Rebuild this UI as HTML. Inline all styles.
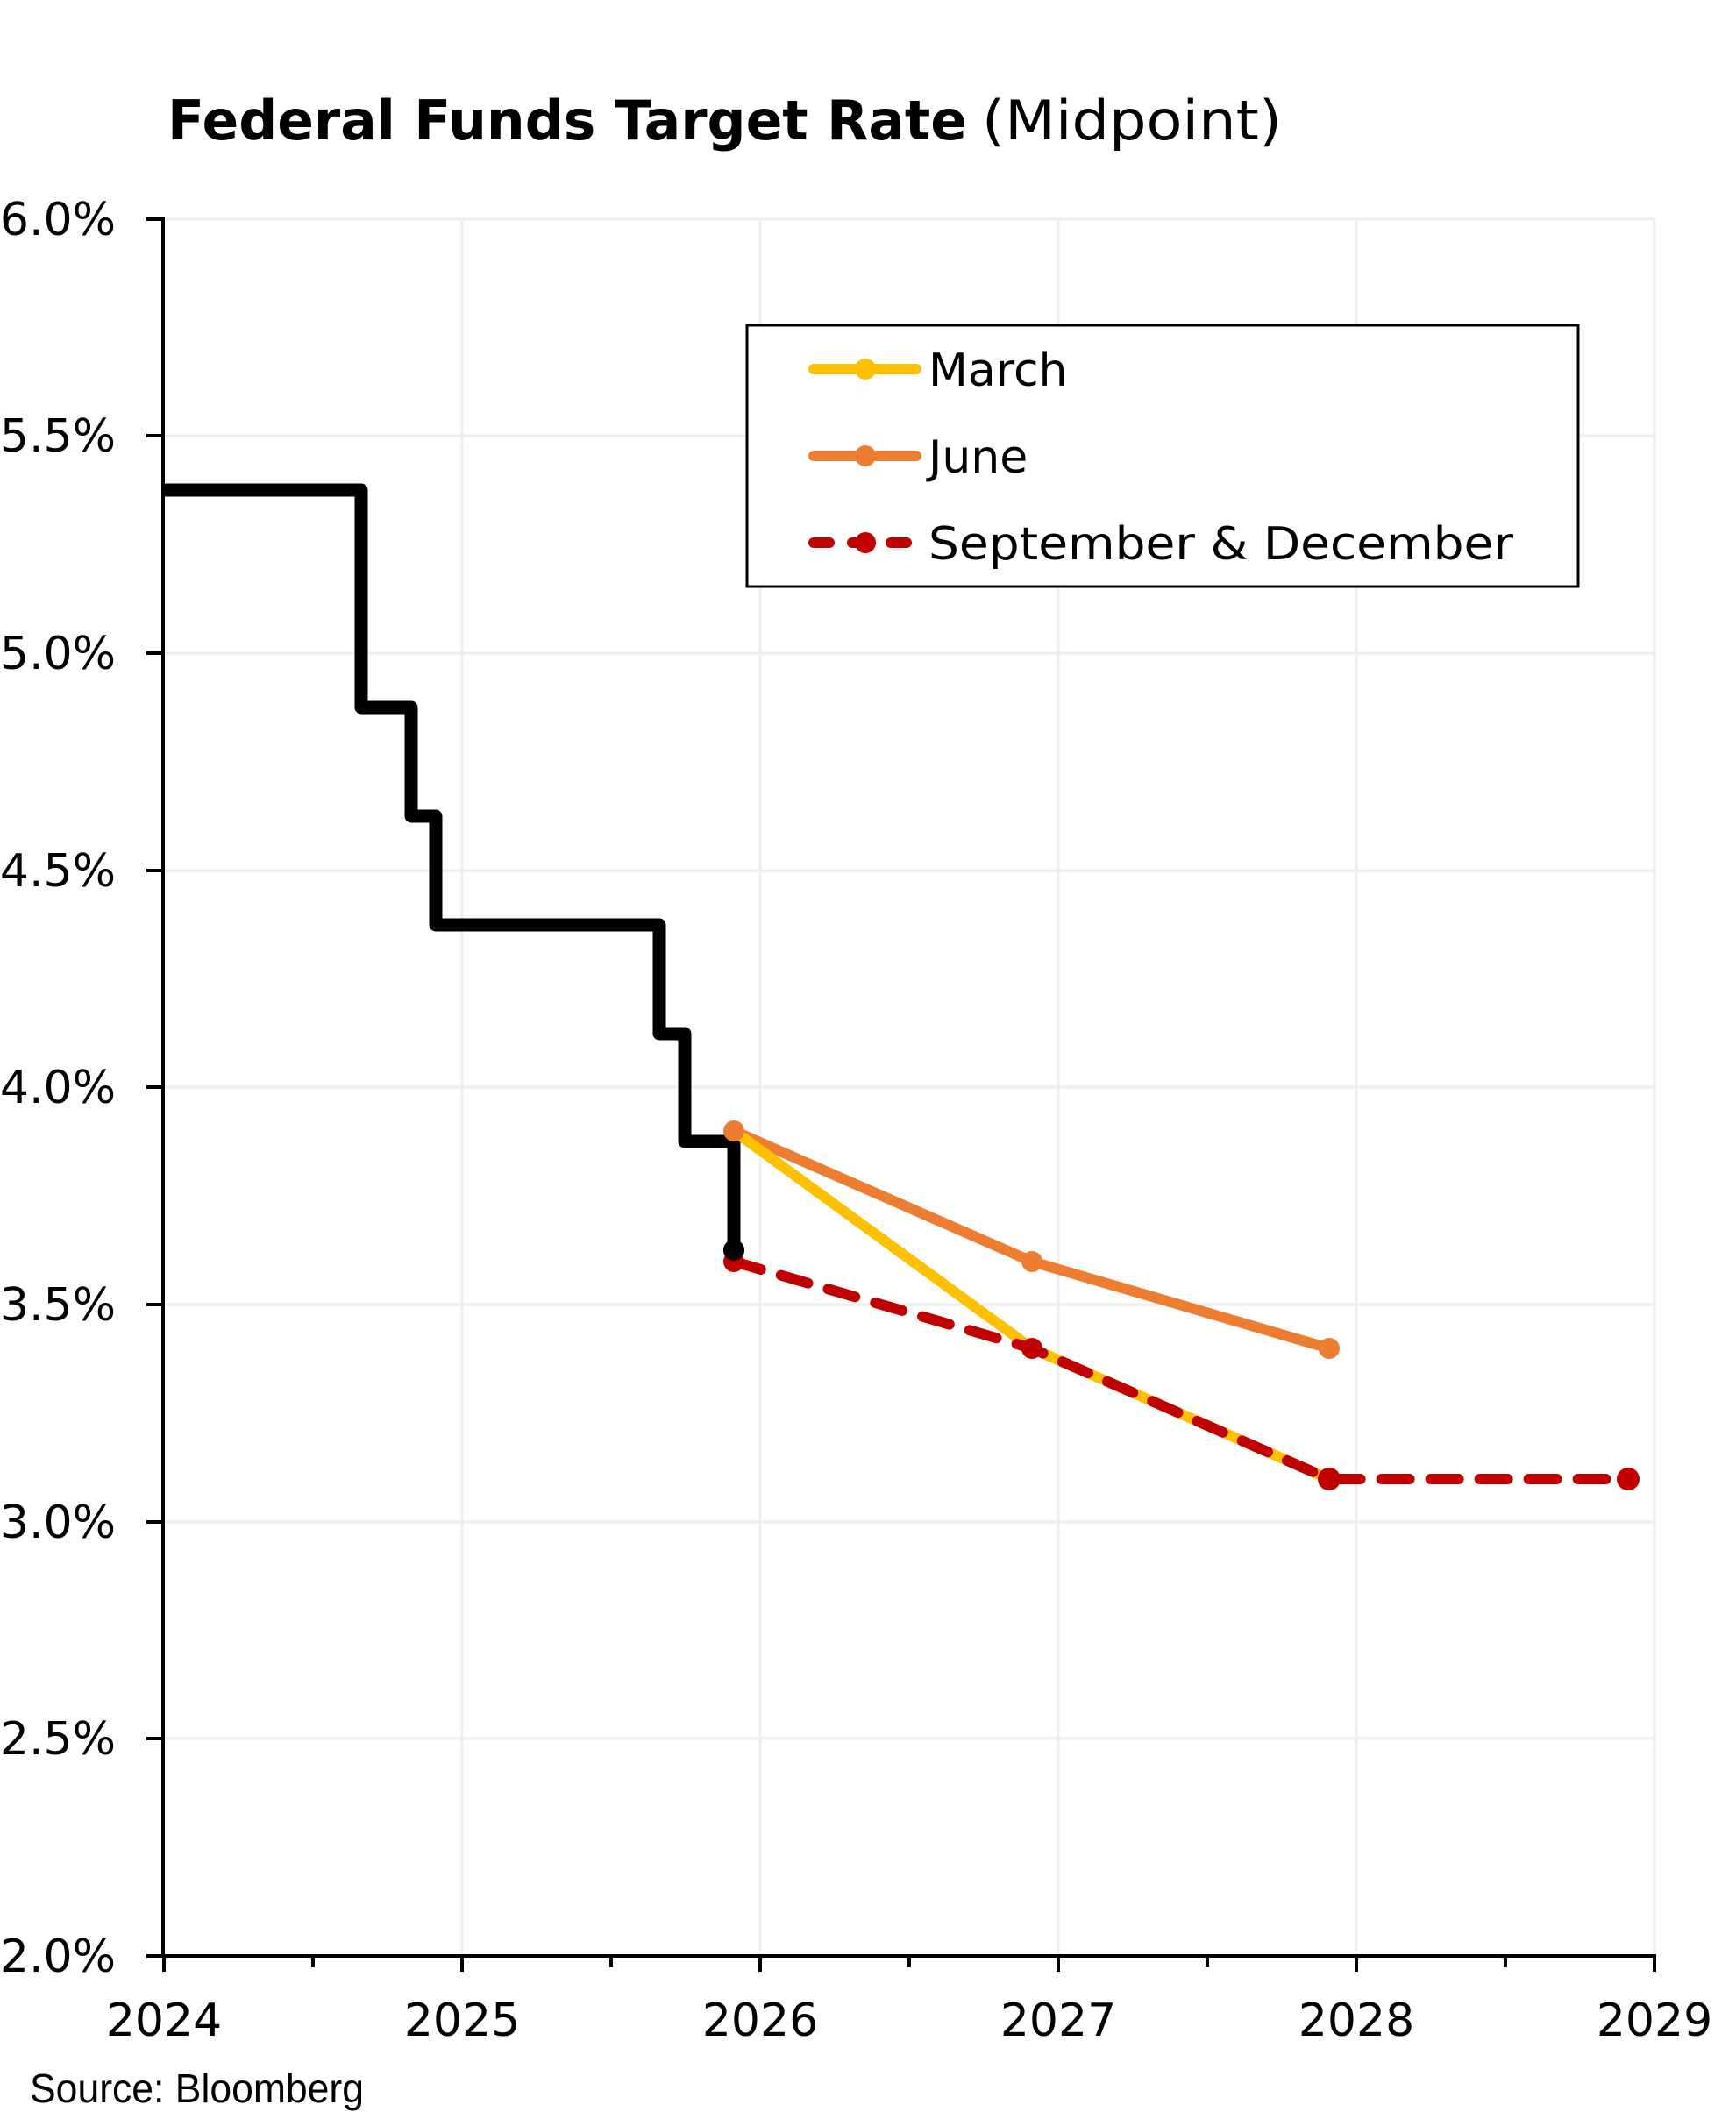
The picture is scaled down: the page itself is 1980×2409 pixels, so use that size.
<!DOCTYPE html>
<html><head><meta charset="utf-8"><style>html,body{margin:0;padding:0;background:#fff}svg{display:block}</style></head>
<body>
<svg width="1980" height="2409" viewBox="0 0 1980 2409" xmlns="http://www.w3.org/2000/svg">
<rect width="1980" height="2409" fill="#fff"/>
<text x="191" y="159" font-family="DejaVu Sans, sans-serif" font-size="62" font-weight="bold" textLength="912" lengthAdjust="spacingAndGlyphs">Federal Funds Target Rate</text>
<text x="1120" y="159" font-family="DejaVu Sans, sans-serif" font-size="62" textLength="342" lengthAdjust="spacingAndGlyphs">(Midpoint)</text>
<g stroke="#eeeeee" stroke-width="3">
<line x1="187" y1="250" x2="1887" y2="250"/><line x1="187" y1="497" x2="1887" y2="497"/><line x1="187" y1="745" x2="1887" y2="745"/><line x1="187" y1="993" x2="1887" y2="993"/><line x1="187" y1="1240" x2="1887" y2="1240"/><line x1="187" y1="1488" x2="1887" y2="1488"/><line x1="187" y1="1736" x2="1887" y2="1736"/><line x1="187" y1="1983" x2="1887" y2="1983"/>
<line x1="527" y1="250" x2="527" y2="2231"/><line x1="867" y1="250" x2="867" y2="2231"/><line x1="1207" y1="250" x2="1207" y2="2231"/><line x1="1547" y1="250" x2="1547" y2="2231"/><line x1="1887" y1="250" x2="1887" y2="2231"/>
</g>
<g stroke="#000" stroke-width="4">
<line x1="186" y1="248" x2="186" y2="2233"/><line x1="184" y1="2231" x2="1889" y2="2231"/>
<line x1="167" y1="250" x2="186" y2="250"/><line x1="167" y1="497" x2="186" y2="497"/><line x1="167" y1="745" x2="186" y2="745"/><line x1="167" y1="993" x2="186" y2="993"/><line x1="167" y1="1240" x2="186" y2="1240"/><line x1="167" y1="1488" x2="186" y2="1488"/><line x1="167" y1="1736" x2="186" y2="1736"/><line x1="167" y1="1983" x2="186" y2="1983"/><line x1="167" y1="2231" x2="186" y2="2231"/>
<line x1="187" y1="2231" x2="187" y2="2249"/><line x1="357" y1="2231" x2="357" y2="2244"/><line x1="527" y1="2231" x2="527" y2="2249"/><line x1="697" y1="2231" x2="697" y2="2244"/><line x1="867" y1="2231" x2="867" y2="2249"/><line x1="1037" y1="2231" x2="1037" y2="2244"/><line x1="1207" y1="2231" x2="1207" y2="2249"/><line x1="1377" y1="2231" x2="1377" y2="2244"/><line x1="1547" y1="2231" x2="1547" y2="2249"/><line x1="1717" y1="2231" x2="1717" y2="2244"/><line x1="1887" y1="2231" x2="1887" y2="2249"/>
</g>
<g font-family="DejaVu Sans, sans-serif" font-size="52" text-anchor="end" fill="#000">
<text x="132" y="268">6.0%</text><text x="132" y="515">5.5%</text><text x="132" y="763">5.0%</text><text x="132" y="1011">4.5%</text><text x="132" y="1258">4.0%</text><text x="132" y="1506">3.5%</text><text x="132" y="1754">3.0%</text><text x="132" y="2001">2.5%</text><text x="132" y="2249">2.0%</text>
</g>
<g font-family="DejaVu Sans, sans-serif" font-size="52" text-anchor="middle" fill="#000">
<text x="187" y="2322">2024</text><text x="527" y="2322">2025</text><text x="867" y="2322">2026</text><text x="1207" y="2322">2027</text><text x="1547" y="2322">2028</text><text x="1887" y="2322">2029</text>
</g>
<text x="34" y="2398" font-family="Liberation Sans, sans-serif" font-size="46" textLength="381" lengthAdjust="spacingAndGlyphs">Source: Bloomberg</text>
<polyline fill="none" stroke="#000" stroke-width="15" stroke-linejoin="round" points="186,559 412,559 412,807 469,807 469,931 497,931 497,1055 752,1055 752,1179 781,1179 781,1302 837,1302 837,1426"/>
<circle cx="837" cy="1426" r="12" fill="#000"/>
<polyline fill="none" stroke="#ed7d31" stroke-width="12" stroke-linejoin="round" points="837,1290 1177,1439 1516,1538"/>
<polyline fill="none" stroke="#ffc000" stroke-width="12" stroke-linejoin="round" points="837,1290 1177,1538 1516,1687"/>
<g fill="#ed7d31"><circle cx="837" cy="1290" r="12"/><circle cx="1177" cy="1439" r="12"/><circle cx="1516" cy="1538" r="12"/></g>
<polyline fill="none" stroke="#c00000" stroke-width="12" stroke-linecap="round" stroke-dasharray="32 24" points="837,1439 1177,1538 1516,1687 1857,1687"/>
<g fill="#c00000"><circle cx="837" cy="1439" r="12"/><circle cx="1177" cy="1538" r="12"/><circle cx="1516" cy="1687" r="13"/><circle cx="1857" cy="1687" r="13"/></g>
<circle cx="837" cy="1426" r="12" fill="#000"/>
<rect x="852" y="371" width="948" height="298" fill="#fff" stroke="#000" stroke-width="3"/>
<line x1="928" y1="421" x2="1045" y2="421" stroke="#ffc000" stroke-width="12" stroke-linecap="round"/><circle cx="987" cy="421" r="12" fill="#ffc000"/>
<line x1="928" y1="520" x2="1045" y2="520" stroke="#ed7d31" stroke-width="12" stroke-linecap="round"/><circle cx="987" cy="520" r="12" fill="#ed7d31"/>
<line x1="928" y1="619" x2="1045" y2="619" stroke="#c00000" stroke-width="12" stroke-linecap="round" stroke-dasharray="18 26"/><circle cx="987" cy="619" r="12" fill="#c00000"/>
<g font-family="DejaVu Sans, sans-serif" font-size="52" fill="#000">
<text x="1059" y="440">March</text><text x="1059" y="539">June</text><text x="1059" y="638" textLength="667" lengthAdjust="spacingAndGlyphs">September &amp; December</text>
</g>
</svg>
</body></html>
